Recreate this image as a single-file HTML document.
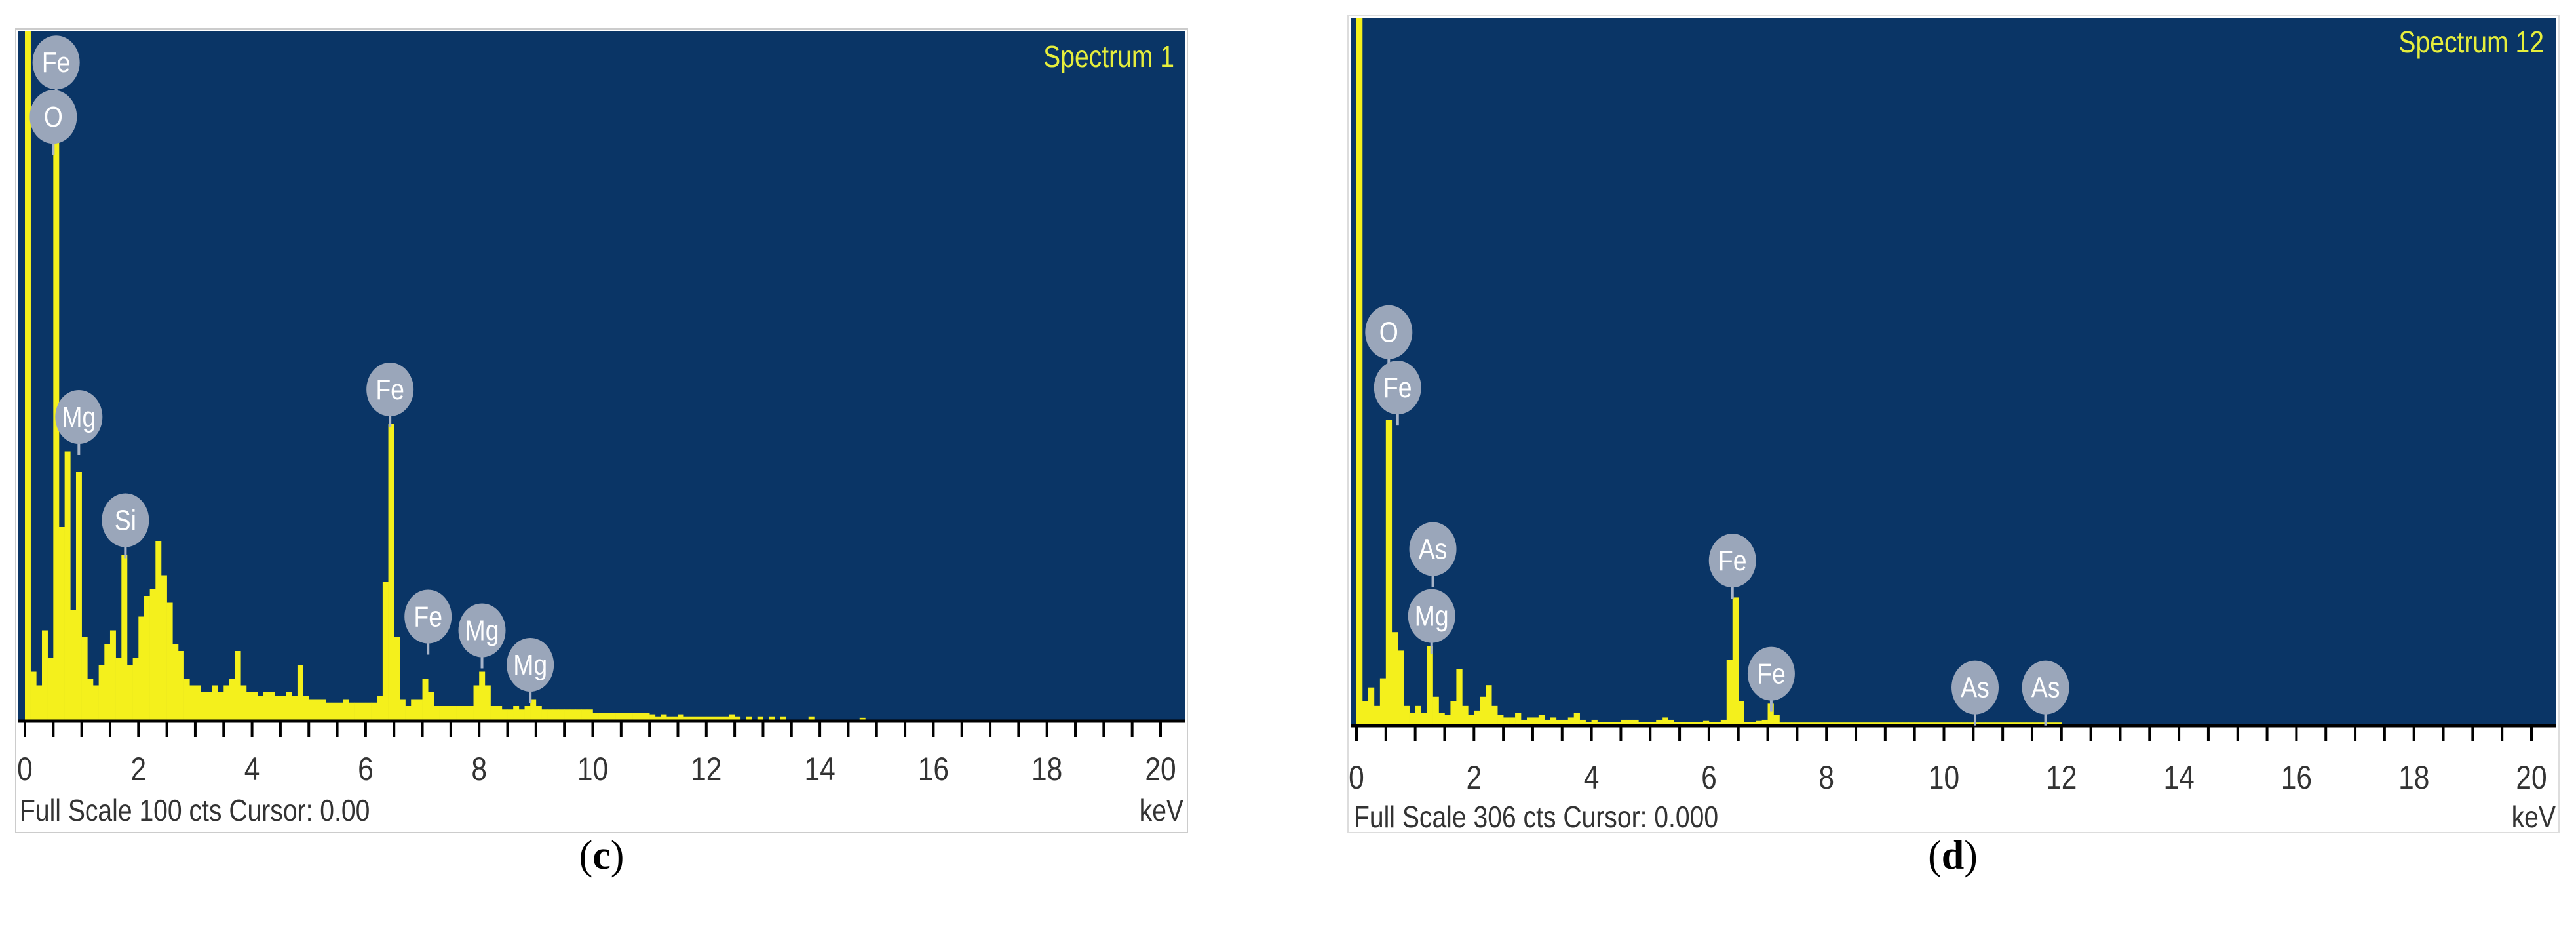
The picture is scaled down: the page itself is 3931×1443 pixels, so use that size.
<!DOCTYPE html>
<html><head><meta charset="utf-8"><style>
html,body{margin:0;padding:0;background:#fff}
svg{display:block}
text{font-family:"Liberation Sans",sans-serif}
</style></head><body>
<svg id="s" width="3931" height="1443" viewBox="0 0 3931 1443" xmlns="http://www.w3.org/2000/svg">
<rect x="24" y="44" width="1788" height="1226" fill="#fff" stroke="#ccc" stroke-width="2"/>
<rect x="2057" y="24" width="1848" height="1246" fill="#fff" stroke="#ddd" stroke-width="2"/>
<rect x="28" y="48" width="1780" height="1050" fill="#0a3566"/>
<rect x="2061" y="28" width="1840" height="1077" fill="#0a3566"/>
<g id="gc"></g><g id="gd"></g>
<text x="1792" y="102" text-anchor="end" font-size="46" fill="#e6ee3c" transform="translate(1792,0) scale(0.85,1) translate(-1792,0)">Spectrum 1</text>
<text x="3882" y="80" text-anchor="end" font-size="46" fill="#e6ee3c" transform="translate(3882,0) scale(0.85,1) translate(-3882,0)">Spectrum 12</text>
<text x="30" y="1252" font-size="46" fill="#333" transform="translate(30,0) scale(0.85,1) translate(-30,0)">Full Scale 100 cts Cursor: 0.00</text>
<text x="1806" y="1252" text-anchor="end" font-size="46" fill="#333" transform="translate(1806,0) scale(0.85,1) translate(-1806,0)">keV</text>
<text x="2066" y="1262" font-size="46" fill="#333" transform="translate(2066,0) scale(0.85,1) translate(-2066,0)">Full Scale 306 cts Cursor: 0.000</text>
<text x="3900" y="1262" text-anchor="end" font-size="46" fill="#333" transform="translate(3900,0) scale(0.85,1) translate(-3900,0)">keV</text>
<text x="918" y="1325" text-anchor="middle" font-size="62" fill="#000" style="font-family:'Liberation Serif',serif">(<tspan font-weight="bold">c</tspan>)</text>
<text x="2980" y="1325" text-anchor="middle" font-size="62" fill="#000" style="font-family:'Liberation Serif',serif">(<tspan font-weight="bold">d</tspan>)</text>
</svg>
<script>
const ticksKeV=[0,2,4,6,8,10,12,14,16,18,20];
const countsC=[100,7,5,13,9,84,28,39,16,36,12,6,5,8,11,13,9,24,8,9,15,18,19,26,21,17,11,10,6,5,5,4,4,5,4,5,6,10,5,4,4,3.5,4,4,3.5,3.5,4,3.5,8,3.5,3,3,3,2.5,2.5,2.5,3,2.5,2.5,2.5,2.5,2.5,3.5,20,43,12,3,2,3,3,6,4,2,2,2,2,2,2,2,5,7,5,2,2,1.5,1.5,2,1.5,2,3,2,1.5,1.5,1.5,1.5,1.5,1.5,1.5,1.5,1.5,1,1,1,1,1,1,1,1,1,1,0.8,0.5,0.8,0.5,0.5,0.8,0.5,0.5,0.5,0.5,0.5,0.5,0.5,0.5,0.8,0.5,0,0.5,0,0.5,0,0.5,0,0.5,0,0,0,0,0.5,0,0,0,0,0,0,0,0,0.3,0,0];
const countsD=[306,10,16,8,20,132,40,32,8,5,8,5,34,12,5,4,10,24,8,4,6,12,17,8,4,3,3,5,2,3,3,4,2,3,2,2,3,5,2,1,2,1,1,1,1,2,2,2,1,1,1,2,3,2,1,1,1,1,1,1.5,1,1,2,28,55,10,1,1,1.5,2,9,4,0.8,0.8,0.8,0.8,0.8,0.8,0.8,0.8,0.8,0.8,0.8,0.8,0.8,0.8,0.8,0.8,0.8,0.8,0.8,0.8,0.8,0.8,0.8,0.8,0.8,0.8,0.8,0.8,0.8,0.8,0.8,0.8,0.8,0.8,0.8,0.8,0.8,0.8,0.8,0.8,0.8,0.8,0.8,0.8,0.8,0.8,0.8,0.8];
const labelsC=["Fe","O","Mg","Si","Fe","Fe","Mg","Mg"];
const labelKeVC=[0.55,0.5,0.95,1.77,6.43,7.1,8.05,8.9];
const labelCountC=[95.5,87.6,44,29,48,15,13,8];
const labelsD=["O","Fe","As","Mg","Fe","Fe","As","As"];
const labelKeVD=[0.55,0.7,1.3,1.28,6.4,7.06,10.53,11.73];
const labelCountD=[170,146,76,47,71,22,16,16];
const binW=0.1;
const NS="http://www.w3.org/2000/svg";
function mk(tag,attrs,parent){const e=document.createElementNS(NS,tag);for(const k in attrs)e.setAttribute(k,attrs[k]);parent.appendChild(e);return e;}
function panel(g,cfg,counts,labels,lk,lc,suffix){
  const xs=k=>cfg.x0+(k/20)*(cfg.x20-cfg.x0);
  const ys=c=>cfg.axisY-Math.min(c,cfg.full)/cfg.full*(cfg.axisY-cfg.top);
  counts.forEach((c,i)=>{
    if(c<=0)return;
    const x=xs(i*binW),w=xs((i+1)*binW)-x;
    const r=mk('rect',{x:x,y:ys(c),width:w+0.3,height:cfg.axisY-ys(c),fill:'#f4f01c'},g);
    
    
  });
  const ax=mk('line',{x1:cfg.left,x2:cfg.right,y1:cfg.axisY+2,y2:cfg.axisY+2,stroke:'#000','stroke-width':5},g);
  
  
  for(let k=0;k<=20.01;k+=0.5){
    const t=mk('line',{x1:xs(k),x2:xs(k),y1:cfg.axisY,y2:cfg.axisY+26,stroke:'#000','stroke-width':4},g);
    
    
  }
  ticksKeV.forEach(k=>{
    const t=mk('text',{x:xs(k),y:cfg.tickY,'text-anchor':'middle','font-size':50,fill:'#333',transform:`translate(${xs(k)},0) scale(0.85,1) translate(${-xs(k)},0)`},g);
    t.textContent=k;
    
    
  });
  labels.forEach((s,i)=>{
    const cx=xs(lk[i]),cy=ys(lc[i]);
    const st=mk('line',{x1:cx,x2:cx,y1:cy+30,y2:cy+58,stroke:'#a8b4c8','stroke-width':4},g);
    
    
    const el=mk('ellipse',{cx:cx,cy:cy,rx:36,ry:41,fill:'#9aa6ba'},g);
    
    
    const t=mk('text',{x:cx,y:cy+15,'text-anchor':'middle','font-size':44,fill:'#fff',transform:`translate(${cx},0) scale(0.85,1) translate(${-cx},0)`},g);
    t.textContent=s;
    
    
  });
}
panel(document.getElementById('gc'),{x0:38,x20:1771,axisY:1098,top:48,full:100,left:28,right:1808,tickY:1190},countsC,labelsC,labelKeVC,labelCountC,'c');
panel(document.getElementById('gd'),{x0:2070,x20:3863,axisY:1105,top:28,full:306,left:2061,right:3901,tickY:1203},countsD,labelsD,labelKeVD,labelCountD,'d');
</script>
</body></html>
